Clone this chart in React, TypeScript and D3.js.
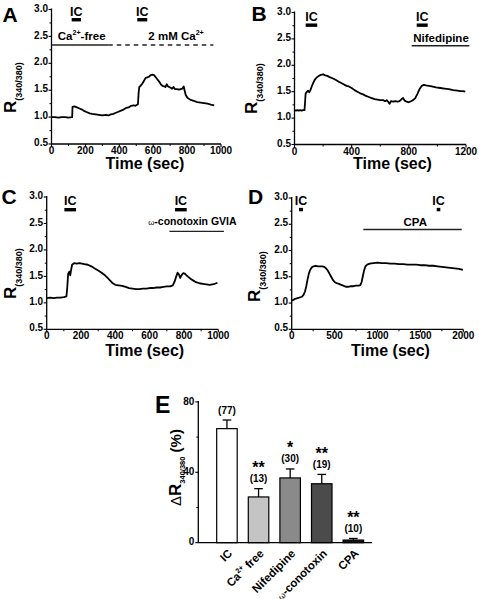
import React from 'react';
import * as d3 from 'd3';

const FONT = "'Liberation Sans', Arial, Helvetica, sans-serif";

// ---------- Trace data (time in sec, R340/380) ----------
const traceA: [number, number][] = [
  [0, 1.0], [20, 1.0], [40, 0.99], [60, 1.0], [80, 1.0], [100, 0.99], [118, 1.0], [122, 1.0],
  [124, 1.19], [135, 1.2], [150, 1.18], [165, 1.16], [180, 1.14], [195, 1.11], [210, 1.09],
  [225, 1.07], [240, 1.06], [260, 1.05], [280, 1.04], [300, 1.03], [320, 1.04], [335, 1.03],
  [350, 1.05], [365, 1.06], [380, 1.08], [395, 1.1], [410, 1.12], [425, 1.14], [440, 1.17],
  [455, 1.18], [470, 1.21], [485, 1.22], [495, 1.21], [505, 1.23], [510, 1.24], [514, 1.45],
  [518, 1.56], [525, 1.58], [535, 1.62], [545, 1.67], [555, 1.73], [565, 1.74], [575, 1.75],
  [585, 1.78], [595, 1.79], [605, 1.78], [615, 1.74], [625, 1.7], [635, 1.66], [645, 1.61],
  [655, 1.58], [665, 1.57], [672, 1.56], [680, 1.61], [688, 1.57], [700, 1.55], [712, 1.53],
  [720, 1.56], [728, 1.52], [740, 1.52], [752, 1.51], [762, 1.52], [772, 1.53], [780, 1.57],
  [785, 1.5], [792, 1.41], [802, 1.36], [820, 1.32], [840, 1.3], [860, 1.28], [880, 1.27],
  [900, 1.26], [920, 1.25], [940, 1.23], [960, 1.22],
];

const traceB: [number, number][] = [
  [0, 1.15], [10, 1.14], [20, 1.15], [30, 1.14], [40, 1.15], [50, 1.14], [60, 1.15], [70, 1.15],
  [74, 1.3], [78, 1.47], [88, 1.5], [95, 1.52], [103, 1.49], [110, 1.52], [118, 1.58], [128, 1.65],
  [140, 1.72], [155, 1.77], [170, 1.8], [185, 1.82], [200, 1.83], [215, 1.81], [230, 1.8],
  [250, 1.77], [270, 1.75], [290, 1.72], [310, 1.69], [330, 1.66], [350, 1.63], [365, 1.61],
  [380, 1.6], [400, 1.57], [420, 1.53], [440, 1.5], [460, 1.47], [480, 1.45], [500, 1.42],
  [520, 1.4], [540, 1.38], [560, 1.36], [580, 1.35], [600, 1.34], [620, 1.34], [635, 1.32],
  [645, 1.34], [655, 1.31], [665, 1.27], [675, 1.32], [690, 1.31], [705, 1.32], [720, 1.31],
  [735, 1.32], [750, 1.36], [760, 1.38], [770, 1.33], [785, 1.31], [800, 1.3], [815, 1.32],
  [830, 1.34], [845, 1.38], [860, 1.46], [875, 1.55], [890, 1.61], [905, 1.63], [920, 1.62],
  [940, 1.61], [960, 1.6], [990, 1.58], [1020, 1.57], [1050, 1.56], [1080, 1.55], [1110, 1.53],
  [1140, 1.52], [1160, 1.51], [1180, 1.51], [1195, 1.5],
];

const traceC: [number, number][] = [
  [0, 1.09], [20, 1.1], [40, 1.09], [60, 1.1], [80, 1.1], [100, 1.11], [115, 1.12], [120, 1.3],
  [125, 1.55], [132, 1.59], [137, 1.52], [142, 1.62], [148, 1.72], [160, 1.75], [175, 1.74],
  [190, 1.75], [205, 1.74], [220, 1.73], [240, 1.72], [260, 1.69], [280, 1.65], [300, 1.61],
  [320, 1.57], [340, 1.52], [355, 1.47], [370, 1.42], [385, 1.37], [400, 1.34], [420, 1.33],
  [440, 1.32], [460, 1.3], [480, 1.28], [500, 1.27], [520, 1.26], [540, 1.26], [560, 1.27],
  [580, 1.27], [600, 1.28], [620, 1.28], [640, 1.29], [660, 1.29], [680, 1.3], [700, 1.31],
  [720, 1.31], [735, 1.33], [745, 1.4], [755, 1.5], [763, 1.57], [770, 1.54], [778, 1.47],
  [785, 1.52], [795, 1.56], [805, 1.55], [815, 1.52], [825, 1.49], [840, 1.45], [855, 1.42],
  [870, 1.39], [890, 1.37], [910, 1.36], [930, 1.35], [950, 1.34], [965, 1.35], [980, 1.36],
  [995, 1.38],
];

const traceD: [number, number][] = [
  [0, 1.05], [20, 1.06], [40, 1.08], [60, 1.09], [80, 1.1], [100, 1.11], [120, 1.12], [140, 1.16],
  [155, 1.22], [170, 1.32], [185, 1.45], [200, 1.56], [215, 1.63], [235, 1.68], [255, 1.7],
  [280, 1.71], [305, 1.7], [330, 1.7], [355, 1.7], [380, 1.69], [400, 1.66], [420, 1.62],
  [440, 1.56], [460, 1.5], [480, 1.44], [500, 1.4], [520, 1.38], [545, 1.37], [570, 1.35],
  [600, 1.33], [630, 1.31], [660, 1.31], [690, 1.32], [720, 1.32], [750, 1.33], [780, 1.33],
  [800, 1.34], [815, 1.4], [830, 1.52], [845, 1.63], [860, 1.7], [880, 1.73], [910, 1.75],
  [950, 1.76], [1000, 1.77], [1050, 1.76], [1100, 1.76], [1150, 1.75], [1200, 1.75], [1250, 1.74],
  [1300, 1.74], [1350, 1.73], [1400, 1.73], [1450, 1.73], [1500, 1.72], [1550, 1.72], [1600, 1.71],
  [1650, 1.71], [1700, 1.7], [1750, 1.69], [1800, 1.68], [1850, 1.67], [1900, 1.66], [1950, 1.65],
  [1995, 1.63],
];

// ---------- Stimulus / treatment annotations ----------
const icA: [number, number][] = [[119, 174], [506, 565]];
const icB: [number, number][] = [[78, 159], [855, 932]];
const icC: [number, number][] = [[103, 171], [748, 816]];
const icD: [number, number][] = [[85, 132], [1690, 1732]];

// ---------- Bar chart data (panel E) ----------
const barCategories = ['IC', 'Ca free', 'Nifedipine', 'conotoxin', 'CPA'];
const barMeans = [64.8, 26.0, 36.8, 33.5, 1.5];
const barErrors = [4.9, 4.7, 5.1, 5.3, 0.9];
const barCounts = ['(77)', '(13)', '(30)', '(19)', '(10)'];
const barSignif = ['', '**', '*', '**', '**'];
const barFills = ['#ffffff', '#c4c4c4', '#8a8a8a', '#4b4b4b', '#151515'];

const yTicksTrace = [0.5, 1.0, 1.5, 2.0, 2.5, 3.0];
const yTicksBar = [0, 40, 80];

type Part = { t: string; sup?: boolean; small?: boolean };
type LineAnn = { start: number; end: number; level: number; dashed?: boolean };
type TextAnn = { parts: Part[]; t: number; level: number };

type PanelCfg = {
  letter: string;
  letterPos: [number, number];
  data: [number, number][];
  xDomain: [number, number];
  xRange: [number, number];
  yRange: [number, number];
  xStep: number;
  ic: [number, number][];
  icLevel: number;
  icLabelLevel: number;
  lines: LineAnn[];
  texts: TextAnn[];
  ylabelPos: [number, number];
  titleX: number;
  titleY: number;
};

function Parts({ parts, size }: { parts: Part[]; size: number }) {
  const out: React.ReactNode[] = [];
  let shift = 0;
  parts.forEach((p, i) => {
    if (p.sup) {
      out.push(
        <tspan key={i} dy={-size * 0.42} fontSize={size * 0.62}>
          {p.t}
        </tspan>
      );
      shift = size * 0.42;
    } else {
      out.push(
        <tspan
          key={i}
          dy={shift}
          fontSize={p.small ? size * 0.75 : size}
          fontWeight={p.small ? 'normal' : 'bold'}
        >
          {p.t}
        </tspan>
      );
      shift = 0;
    }
  });
  return <>{out}</>;
}

function TracePanel({ cfg }: { cfg: PanelCfg }) {
  const x = d3.scaleLinear().domain(cfg.xDomain).range(cfg.xRange);
  const y = d3.scaleLinear().domain([0.5, 3.0]).range(cfg.yRange);
  const line = d3
    .line<[number, number]>()
    .x((d) => x(d[0]))
    .y((d) => y(d[1]));
  const xMajor = d3.range(cfg.xDomain[0], cfg.xDomain[1] + 1, cfg.xStep);
  const xMinor = d3.range(cfg.xDomain[0] + cfg.xStep / 2, cfg.xDomain[1], cfg.xStep);
  const yMinor = d3.range(0.75, 3.0, 0.5);
  const [x0, x1] = cfg.xRange;
  const [yb, yt] = cfg.yRange;
  return (
    <g>
      <text
        x={cfg.letterPos[0]}
        y={cfg.letterPos[1]}
        fontSize={21}
        fontWeight="bold"
        fontFamily={FONT}
      >
        {cfg.letter}
      </text>
      {/* axes */}
      <line x1={x0} x2={x0} y1={yt - 1} y2={yb} stroke="#000" strokeWidth={1.3} />
      <line x1={x0} x2={x1} y1={yb} y2={yb} stroke="#000" strokeWidth={1.3} />
      {yTicksTrace.map((v) => (
        <g key={'yt' + v}>
          <line x1={x0 - 3} x2={x0} y1={y(v)} y2={y(v)} stroke="#000" strokeWidth={1.1} />
          <text
            x={x0 - 3.5}
            y={y(v) - 0.5}
            textAnchor="end"
            dominantBaseline="middle"
            fontSize={10}
            fontWeight="bold"
            fontFamily={FONT}
          >
            {v.toFixed(1)}
          </text>
        </g>
      ))}
      {yMinor.map((v) => (
        <line key={'ym' + v} x1={x0 - 2} x2={x0} y1={y(v)} y2={y(v)} stroke="#000" strokeWidth={1} />
      ))}
      {xMajor.map((v) => (
        <g key={'xt' + v}>
          <line x1={x(v)} x2={x(v)} y1={yb} y2={yb + 3} stroke="#000" strokeWidth={1.1} />
          <text
            x={x(v)}
            y={yb + 10}
            textAnchor="middle"
            fontSize={10}
            fontWeight="bold"
            fontFamily={FONT}
          >
            {v}
          </text>
        </g>
      ))}
      {xMinor.map((v) => (
        <line key={'xm' + v} x1={x(v)} x2={x(v)} y1={yb} y2={yb + 2} stroke="#000" strokeWidth={1} />
      ))}
      {/* axis titles */}
      <text
        x={cfg.titleX}
        y={cfg.titleY}
        textAnchor="middle"
        fontSize={16}
        fontWeight="bold"
        fontFamily={FONT}
      >
        Time (sec)
      </text>
      <text
        transform={`translate(${cfg.ylabelPos[0]},${cfg.ylabelPos[1]}) rotate(-90)`}
        fontFamily={FONT}
        fontWeight="bold"
      >
        <tspan fontSize={17}>R</tspan>
        <tspan fontSize={9} dy={6}>
          (340/380)
        </tspan>
      </text>
      {/* trace */}
      <path d={line(cfg.data) || ''} fill="none" stroke="#000" strokeWidth={1.8} strokeLinejoin="round" />
      {/* IC bars */}
      {cfg.ic.map(([s, e], i) => (
        <g key={'ic' + i}>
          <rect
            x={x(s)}
            y={y(cfg.icLevel) - 1.7}
            width={x(e) - x(s)}
            height={3.4}
            fill="#000"
          />
          <text
            x={(x(s) + x(e)) / 2}
            y={y(cfg.icLabelLevel)}
            textAnchor="middle"
            fontSize={12.5}
            fontWeight="bold"
            fontFamily={FONT}
          >
            IC
          </text>
        </g>
      ))}
      {cfg.lines.map((l, i) => (
        <line
          key={'ln' + i}
          x1={x(l.start)}
          x2={x(l.end)}
          y1={y(l.level)}
          y2={y(l.level)}
          stroke="#222"
          strokeWidth={1.4}
          strokeDasharray={l.dashed ? '4.5 4' : undefined}
        />
      ))}
      {cfg.texts.map((tx, i) => (
        <text
          key={'tx' + i}
          x={x(tx.t)}
          y={y(tx.level)}
          textAnchor="middle"
          fontFamily={FONT}
          fontWeight="bold"
        >
          <Parts parts={tx.parts} size={tx.parts.some((p) => p.small) ? 10.5 : 11.5} />
        </text>
      ))}
    </g>
  );
}

const panels: PanelCfg[] = [
  {
    letter: 'A',
    letterPos: [2.5, 21.7],
    data: traceA,
    xDomain: [0, 1000],
    xRange: [51.5, 221],
    yRange: [144, 9.5],
    xStep: 200,
    ic: icA,
    icLevel: 2.81,
    icLabelLevel: 2.88,
    lines: [
      { start: 0, end: 335, level: 2.34 },
      { start: 335, end: 955, level: 2.34, dashed: true },
    ],
    texts: [
      { parts: [{ t: 'Ca' }, { t: '2+', sup: true }, { t: '-free' }], t: 178, level: 2.44 },
      { parts: [{ t: '2 mM Ca' }, { t: '2+', sup: true }], t: 735, level: 2.44 },
    ],
    ylabelPos: [16, 113],
    titleX: 145,
    titleY: 168.5,
  },
  {
    letter: 'B',
    letterPos: [251.5, 20.7],
    data: traceB,
    xDomain: [0, 1200],
    xRange: [294.5, 466],
    yRange: [144.5, 12.5],
    xStep: 400,
    ic: icB,
    icLevel: 2.76,
    icLabelLevel: 2.84,
    lines: [{ start: 820, end: 1223, level: 2.37 }],
    texts: [{ parts: [{ t: 'Nifedipine' }], t: 1025, level: 2.44 }],
    ylabelPos: [257, 114],
    titleX: 392.5,
    titleY: 168.5,
  },
  {
    letter: 'C',
    letterPos: [1.5, 203.5],
    data: traceC,
    xDomain: [0, 1000],
    xRange: [46.7, 218.3],
    yRange: [329.3, 197],
    xStep: 200,
    ic: icC,
    icLevel: 2.76,
    icLabelLevel: 2.85,
    lines: [{ start: 715, end: 1033, level: 2.35 }],
    texts: [{ parts: [{ t: 'ω', small: true }, { t: '-conotoxin GVIA' }], t: 849, level: 2.47 }],
    ylabelPos: [15.5, 299],
    titleX: 144.7,
    titleY: 355.5,
  },
  {
    letter: 'D',
    letterPos: [248, 203.5],
    data: traceD,
    xDomain: [0, 2000],
    xRange: [291.7, 463.3],
    yRange: [329.3, 198],
    xStep: 500,
    ic: icD,
    icLevel: 2.78,
    icLabelLevel: 2.86,
    lines: [{ start: 835, end: 1982, level: 2.4 }],
    texts: [{ parts: [{ t: 'CPA' }], t: 1440, level: 2.46 }],
    ylabelPos: [259.5, 302],
    titleX: 390.5,
    titleY: 355.5,
  },
];

function BarPanel() {
  const axisX = 198.3;
  const axisEnd = 372;
  const x = d3
    .scaleBand<string>()
    .domain(barCategories)
    .range([axisX, 382])
    .paddingInner(0.351)
    .paddingOuter(0.582);
  const y = d3.scaleLinear().domain([0, 80]).range([542.7, 401.9]);
  const bw = x.bandwidth();
  const yMinor = [20, 60];
  const xLabelParts: Part[][] = [
    [{ t: 'IC' }],
    [{ t: 'Ca' }, { t: '2+', sup: true }, { t: ' free' }],
    [{ t: 'Nifedipine' }],
    [{ t: 'ω', small: true }, { t: '-conotoxin' }],
    [{ t: 'CPA' }],
  ];
  return (
    <g fontFamily={FONT}>
      <text x={155} y={413} fontSize={23} fontWeight="bold">
        E
      </text>
      {barCategories.map((c, i) => {
        const bx = x(c) as number;
        const top = y(barMeans[i]);
        const errTop = y(barMeans[i] + barErrors[i]);
        const cx = bx + bw / 2;
        return (
          <g key={c}>
            <line x1={cx} x2={cx} y1={top} y2={errTop} stroke="#000" strokeWidth={1.3} />
            <line x1={cx - 4.3} x2={cx + 4.3} y1={errTop} y2={errTop} stroke="#000" strokeWidth={1.3} />
            <rect
              x={bx}
              y={top}
              width={bw}
              height={y(0) - top}
              fill={barFills[i]}
              stroke="#000"
              strokeWidth={1.2}
            />
            <text x={cx} y={errTop - 6.5} textAnchor="middle" fontSize={10} fontWeight="bold">
              {barCounts[i]}
            </text>
            {barSignif[i] && (
              <text x={cx} y={errTop - 15.5} textAnchor="middle" fontSize={16} fontWeight="bold">
                {barSignif[i]}
              </text>
            )}
            <text
              transform={`translate(${cx + 6},${y(0) + 11.5}) rotate(-45)`}
              textAnchor="end"
              fontWeight="bold"
            >
              <Parts parts={xLabelParts[i]} size={11.5} />
            </text>
          </g>
        );
      })}
      <line x1={axisX} x2={axisX} y1={y(80) - 1} y2={y(0)} stroke="#000" strokeWidth={1.3} />
      <line x1={axisX} x2={axisEnd} y1={y(0)} y2={y(0)} stroke="#000" strokeWidth={1.3} />
      {yTicksBar.map((v) => (
        <g key={v}>
          <line x1={axisX - 3} x2={axisX} y1={y(v)} y2={y(v)} stroke="#000" strokeWidth={1.1} />
          <text
            x={axisX - 4}
            y={y(v)}
            textAnchor="end"
            dominantBaseline="middle"
            fontSize={10}
            fontWeight="bold"
          >
            {v}
          </text>
        </g>
      ))}
      {yMinor.map((v) => (
        <line key={'m' + v} x1={axisX - 2} x2={axisX} y1={y(v)} y2={y(v)} stroke="#000" strokeWidth={1} />
      ))}
      <text transform={`translate(181,506) rotate(-90)`}>
        <tspan fontSize={15}>Δ</tspan>
        <tspan fontSize={17} fontWeight="bold">
          R
        </tspan>
        <tspan fontSize={7.5} fontWeight="bold" dy={4}>
          340/380
        </tspan>
        <tspan fontSize={15} fontWeight="bold" dy={-4}>
          {' (%)'}
        </tspan>
      </text>
    </g>
  );
}

export default function App() {
  return (
    <svg
      width={479}
      height={599}
      viewBox="0 0 479 599"
      style={{ position: 'absolute', left: 0, top: 0, background: '#fff' }}
    >
      <rect x={0} y={0} width={479} height={599} fill="#fff" />
      {panels.map((p) => (
        <TracePanel key={p.letter} cfg={p} />
      ))}
      <BarPanel />
    </svg>
  );
}
